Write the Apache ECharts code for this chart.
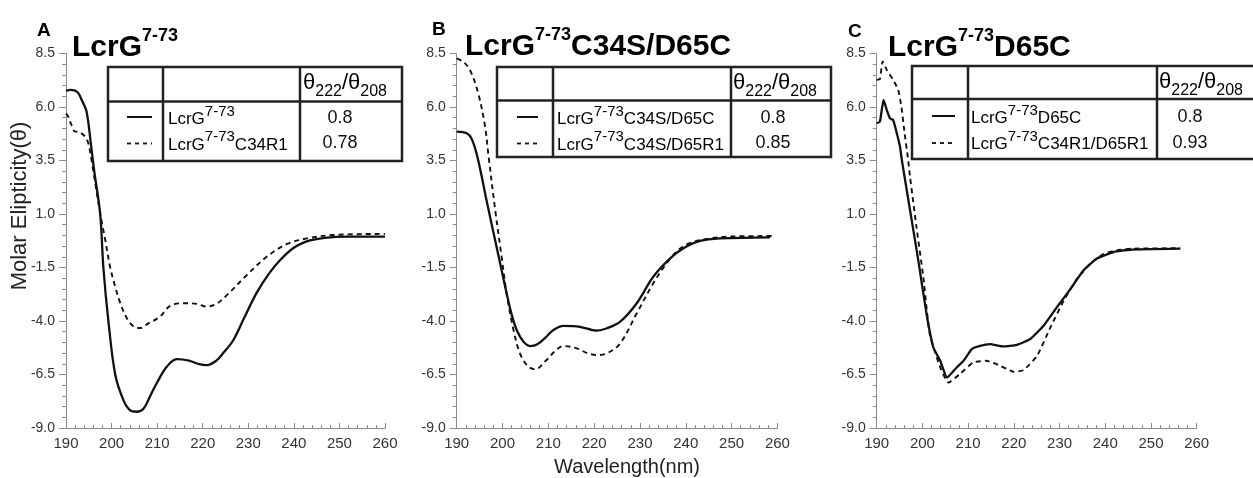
<!DOCTYPE html>
<html><head><meta charset="utf-8">
<script src="https://cdn.jsdelivr.net/npm/echarts@6/dist/echarts.min.js"></script>
<style>html,body{margin:0;padding:0;background:#fff}#c{width:1253px;height:478px}</style>
</head><body><div id="c"></div>
<script>
// ---------- data ----------
const yTickValues = [-9.0, -6.5, -4.0, -1.5, 1.0, 3.5, 6.0, 8.5];
const xMin = 190, xMax = 260, xStep = 10;

const aSolid = [[190,6.75],[191,6.8],[192.5,6.7],[193.5,6.3],[194.5,5.8],[195.5,4.2],[196.2,3.0],[197.5,1.0],[198.2,-1.5],[199.3,-4.0],[200.8,-6.5],[202.6,-7.7],[204,-8.16],[205.5,-8.24],[207,-8.1],[208.4,-7.54],[209.9,-6.91],[212.1,-6.14],[214.3,-5.78],[217,-5.85],[219,-6.0],[220.9,-6.06],[223,-5.85],[224.5,-5.5],[226.7,-4.9],[229,-3.9],[231.8,-2.7],[234.5,-1.8],[237,-1.15],[239.9,-0.59],[242.5,-0.3],[245,-0.17],[248.6,-0.08],[252,-0.06],[260,-0.06]];
const aDashed = [[190,5.7],[190.5,5.55],[191.2,5.16],[192,4.85],[192.7,4.85],[193.4,4.77],[194.2,4.61],[194.9,4.3],[195.6,3.52],[197.5,1.03],[198.6,-0.2],[199.7,-1.5],[200.8,-2.4],[201.9,-3.15],[203.3,-3.85],[204.8,-4.25],[206.2,-4.33],[208,-4.12],[210.6,-3.8],[212.8,-3.3],[215.5,-3.17],[218.8,-3.2],[220.9,-3.33],[223,-3.2],[225.3,-2.79],[229.7,-1.85],[234.1,-0.99],[238.5,-0.4],[242.9,-0.14],[248.7,0.02],[260,0.07]];

const bSolid = [[190,4.85],[192.2,4.77],[193.3,4.5],[194.6,3.6],[196.5,1.65],[198.7,-0.53],[200.9,-2.71],[202,-3.7],[203.1,-4.42],[204.5,-4.95],[206,-5.17],[207.5,-5.1],[209.5,-4.75],[211.1,-4.42],[213.3,-4.23],[216.9,-4.27],[220.6,-4.45],[222.8,-4.34],[225.7,-4.03],[229.3,-3.17],[232.9,-1.93],[236.6,-1.07],[239.5,-0.6],[243.1,-0.26],[247.5,-0.14],[258.4,-0.09]];
const bDashed = [[190,8.27],[191.5,8.1],[192.9,7.73],[194.7,6.64],[196.2,5.08],[196.9,3.8],[198.4,1.19],[199.8,-0.99],[200.9,-2.71],[202.4,-4.42],[203.8,-5.51],[205.5,-6.1],[207.1,-6.26],[209.6,-5.82],[211.5,-5.4],[213.3,-5.17],[216.2,-5.28],[218.5,-5.5],[220.6,-5.59],[222.8,-5.51],[225.7,-5.04],[229.3,-3.64],[232.9,-2.24],[235.8,-1.31],[238.4,-0.68],[241,-0.35],[245,-0.15],[250,-0.05],[258.8,-0.03]];

const cSolid = [[190,5.24],[190.7,5.31],[191.5,6.33],[192.2,5.86],[192.9,5.47],[193.6,5.39],[194.4,4.77],[195.1,4.14],[195.5,3.52],[197.3,1.17],[199.1,-1.17],[200.9,-3.67],[202.4,-5.24],[203.9,-5.86],[205.4,-6.64],[207.5,-6.17],[209,-5.86],[210.8,-5.31],[212.6,-5.16],[214.8,-5.08],[217.7,-5.19],[220.6,-5.12],[223.6,-4.84],[226.5,-4.22],[229.4,-3.36],[232.4,-2.5],[235.2,-1.64],[238.1,-1.09],[241.8,-0.78],[245.4,-0.67],[256.4,-0.62]];
const cDashed = [[190,7.27],[190.7,7.3],[191.3,8.13],[192.2,7.74],[193.6,7.27],[194.7,6.8],[195.4,6.02],[196.1,4.77],[196.8,3.67],[197.3,2.73],[198.7,0.39],[200.2,-1.95],[201.6,-4.61],[203.9,-6.17],[205.7,-6.88],[208.2,-6.48],[211.1,-5.94],[214,-5.86],[217,-6.09],[219.9,-6.37],[222.1,-6.3],[225.1,-5.62],[228,-4.3],[230.9,-3.05],[233.8,-2.03],[236.7,-1.33],[239.6,-0.86],[242.5,-0.7],[246,-0.62],[256.4,-0.6]];

const panelLetters = ['A', 'B', 'C'];
const titleMain = ['LcrG', 'LcrG', 'LcrG'];
const titleSup = ['7-73', '7-73', '7-73'];
const titleTail = ['', 'C34S/D65C', 'D65C'];
const rowSolidTail = ['', 'C34S/D65C', 'D65C'];
const rowDashedTail = ['C34R1', 'C34S/D65R1', 'C34R1/D65R1'];
const ratioSolid = ['0.8', '0.8', '0.8'];
const ratioDashed = ['0.78', '0.85', '0.93'];
const yTitle = 'Molar Elipticity(\u03b8)';
const xTitle = 'Wavelength(nm)';

// ---------- layout ----------
const FONT = '"Liberation Sans", Arial, sans-serif';
const grids = [
  {left: 66, top: 53.5, width: 319, height: 374.5},
  {left: 456.7, top: 53.5, width: 320.7, height: 374.5},
  {left: 876.7, top: 53.5, width: 320, height: 374.5}
];
const tables = [
  {x0:108, x1:163, x2:300, x3:402, y0:67, y1:101.5, y2:161, r1:118, r2:143.5, lineX:[127,152], nameX:168, numX:340, hdrX:303},
  {x0:497, x1:553, x2:731, x3:831, y0:67, y1:100.5, y2:157, r1:118, r2:143.5, lineX:[517,538], nameX:557, numX:773, hdrX:733},
  {x0:912, x1:968, x2:1157, x3:1264, y0:66, y1:99, y2:159, r1:117, r2:143, lineX:[932,955], nameX:971, numX:1190, hdrX:1159}
];
const titlePos = [{x:72, y:27}, {x:465, y:26}, {x:888, y:27}];
const letterPos = [{x:37, y:21}, {x:432, y:20}, {x:848, y:22}];

const AXIS_COLOR = '#8c8c8c';
const xAxes = [], yAxes = [], series = [];
const allData = [[aSolid, aDashed], [bSolid, bDashed], [cSolid, cDashed]];

grids.forEach((g, i) => {
  xAxes.push({
    gridIndex: i, type: 'value', min: xMin, max: xMax, interval: xStep, position: 'bottom',
    axisLine: {show: true, onZero: false, lineStyle: {color: AXIS_COLOR, width: 1}},
    axisTick: {show: true, inside: true, length: 5, lineStyle: {color: AXIS_COLOR}},
    minorTick: {show: true, splitNumber: 5, length: 3, lineStyle: {color: AXIS_COLOR}},
    axisLabel: {fontSize: 15, color: '#333', margin: 8, fontFamily: FONT},
    splitLine: {show: false}
  });
  yAxes.push({
    gridIndex: i, type: 'value', min: -9, max: 8.5, interval: 0.5, position: 'left',
    axisLine: {show: true, onZero: false, lineStyle: {color: AXIS_COLOR, width: 1}},
    axisTick: {show: true, length: 7, customValues: yTickValues, lineStyle: {color: AXIS_COLOR}},
    axisLabel: {customValues: yTickValues, formatter: v => v.toFixed(1), fontSize: 14, color: '#333', margin: 11, fontFamily: FONT},
    splitLine: {show: false}
  });
  yAxes.push({
    gridIndex: i, type: 'value', min: -9, max: 8.5, interval: 0.5, position: 'left', offset: 0,
    axisLine: {show: false, onZero: false},
    axisTick: {show: true, length: 4, lineStyle: {color: AXIS_COLOR}},
    axisLabel: {show: false},
    splitLine: {show: false}
  });
  const smooth = i === 2 ? 0.15 : 0.35;
  series.push({
    type: 'line', xAxisIndex: i, yAxisIndex: 2 * i, data: allData[i][0],
    showSymbol: false, smooth: smooth, lineStyle: {color: '#111', width: 2.3}, z: 3
  });
  series.push({
    type: 'line', xAxisIndex: i, yAxisIndex: 2 * i, data: allData[i][1],
    showSymbol: false, smooth: smooth, lineStyle: {color: '#111', width: 1.9, type: [5, 4]}, z: 2
  });
});

// ---------- graphics (titles, tables) ----------
const graphic = [];
const richRow = {
  n: {fontSize: 17, lineHeight: 24, verticalAlign: 'bottom', fontFamily: FONT, color: '#111'},
  s: {fontSize: 15, lineHeight: 10, verticalAlign: 'top', fontFamily: FONT, color: '#111'}
};
const richTitle = {
  n: {fontSize: 30, lineHeight: 36, verticalAlign: 'bottom', fontWeight: 'bold', fontFamily: FONT, color: '#000'},
  s: {fontSize: 18, lineHeight: 18, verticalAlign: 'top', fontWeight: 'bold', fontFamily: FONT, color: '#000'}
};
const richHdr = {
  t: {fontSize: 22, lineHeight: 20, verticalAlign: 'top', fontFamily: FONT, color: '#111'},
  b: {fontSize: 16, lineHeight: 28, verticalAlign: 'bottom', fontFamily: FONT, color: '#111'}
};
function rt(main, sup, tail) {
  return '{n|' + main + '}{s|' + sup + '}' + (tail ? '{n|' + tail + '}' : '');
}
for (let i = 0; i < 3; i++) {
  const t = tables[i];
  graphic.push({type: 'text', left: letterPos[i].x, top: letterPos[i].y,
    style: {text: panelLetters[i], font: 'bold 19px ' + FONT, fill: '#000'}});
  graphic.push({type: 'text', x: titlePos[i].x, y: titlePos[i].y,
    style: {text: rt(titleMain[i], titleSup[i], titleTail[i]), rich: richTitle, verticalAlign: 'top', align: 'left'}});
  const ls = {stroke: '#222', lineWidth: 2.5};
  graphic.push({type: 'rect', shape: {x: t.x0, y: t.y0, width: t.x3 - t.x0, height: t.y2 - t.y0}, style: {fill: '#fff', stroke: '#222', lineWidth: 2.5}, z: 10});
  graphic.push({type: 'line', shape: {x1: t.x0, y1: t.y1, x2: t.x3, y2: t.y1}, style: ls, z: 11});
  graphic.push({type: 'line', shape: {x1: t.x1, y1: t.y0, x2: t.x1, y2: t.y2}, style: ls, z: 11});
  graphic.push({type: 'line', shape: {x1: t.x2, y1: t.y0, x2: t.x2, y2: t.y2}, style: ls, z: 11});
  graphic.push({type: 'line', shape: {x1: t.lineX[0], y1: t.r1 - 1, x2: t.lineX[1], y2: t.r1 - 1}, style: {stroke: '#111', lineWidth: 2}, z: 11});
  graphic.push({type: 'line', shape: {x1: t.lineX[0], y1: t.r2, x2: t.lineX[1], y2: t.r2}, style: {stroke: '#111', lineWidth: 1.8, lineDash: [4, 4]}, z: 11});
  graphic.push({type: 'text', x: t.nameX, y: t.r1 - 14, z: 11,
    style: {text: rt('LcrG', '7-73', rowSolidTail[i]), rich: richRow, verticalAlign: 'top', align: 'left'}});
  graphic.push({type: 'text', x: t.nameX, y: t.r2 - 14, z: 11,
    style: {text: rt('LcrG', '7-73', rowDashedTail[i]), rich: richRow, verticalAlign: 'top', align: 'left'}});
  graphic.push({type: 'text', x: t.numX, y: t.r1, z: 11,
    style: {text: ratioSolid[i], font: '18px ' + FONT, fill: '#111', align: 'center', verticalAlign: 'middle'}});
  graphic.push({type: 'text', x: t.numX, y: t.r2, z: 11,
    style: {text: ratioDashed[i], font: '18px ' + FONT, fill: '#111', align: 'center', verticalAlign: 'middle'}});
  graphic.push({type: 'text', x: t.hdrX, y: t.y0 + 5, z: 11,
    style: {text: '{t|\u03b8}{b|222}{t|/\u03b8}{b|208}', rich: richHdr, verticalAlign: 'top', align: 'left'}});
}
graphic.push({type: 'text', x: 20, y: 206, rotation: Math.PI / 2,
  style: {text: yTitle, font: '22px ' + FONT, fill: '#222', align: 'center', verticalAlign: 'middle'}});
graphic.push({type: 'text', x: 627, y: 467,
  style: {text: xTitle, font: '20px ' + FONT, fill: '#222', align: 'center', verticalAlign: 'middle'}});

const chart = echarts.init(document.getElementById('c'), null, {renderer: 'canvas'});
chart.setOption({
  animation: false,
  backgroundColor: '#fff',
  grid: grids,
  xAxis: xAxes,
  yAxis: yAxes,
  series: series,
  graphic: graphic
});
</script>
</body></html>
